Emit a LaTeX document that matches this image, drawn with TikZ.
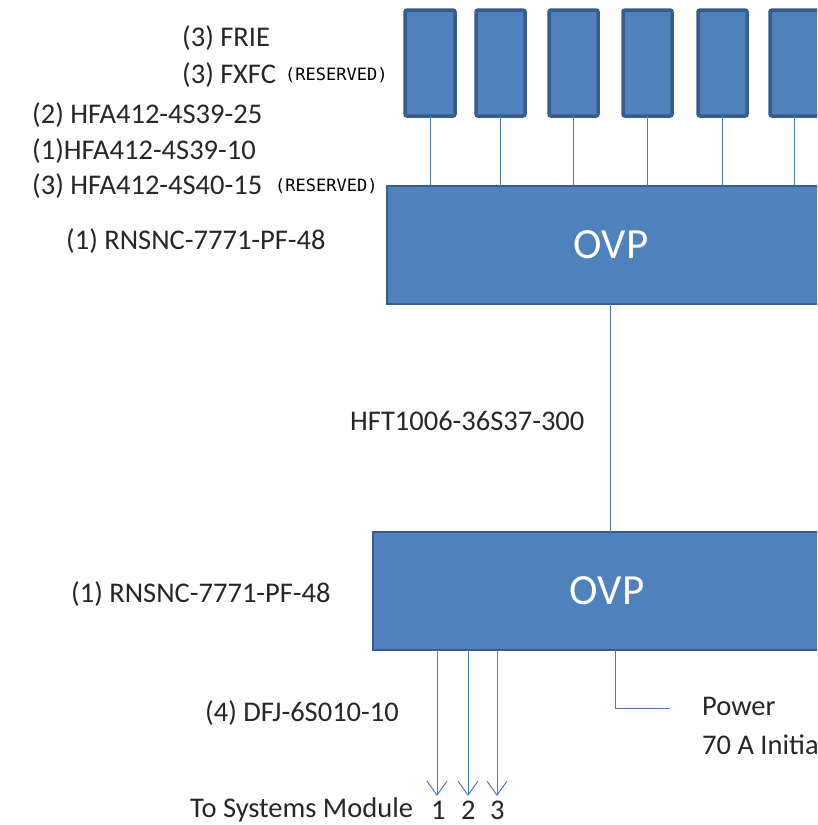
\documentclass[tikz,border=0pt]{standalone}
\usepackage{fontspec}
\setmainfont{Carlito}
\newfontfamily\resfont{DejaVu Sans Mono}
\usetikzlibrary{arrows.meta}
\definecolor{boxfill}{HTML}{4F81BD}
\definecolor{boxline}{HTML}{385D8A}
\definecolor{wire}{HTML}{4A7EBB}
\definecolor{txt}{HTML}{262626}
\tikzset{
  plug/.style={draw=boxline, line width=3.5pt, fill=boxfill, rounded corners=2pt},
  ovp/.style={draw=boxline, line width=1.5pt, fill=boxfill},
  wireln/.style={draw=wire, line width=1pt},
  lbl/.style={anchor=west, inner sep=0pt, text=txt, font=\fontsize{28.5}{30}\selectfont},
  res/.style={anchor=west, inner sep=0pt, text=black, font=\resfont\fontsize{17}{19}\selectfont},
  ovptext/.style={text=white, font=\fontsize{43}{46}\selectfont},
}
\begin{document}
\begin{tikzpicture}[x=1pt,y=-1pt]
\useasboundingbox (0,0) rectangle (817,825);
\clip (0,0) rectangle (817,825);
% top connectors
\foreach \i/\a/\b in {1/405/455,2/476/525,3/549/598,4/623/672,5/698/747,6/770/819}{
  \path[plug] (\a,10) rectangle (\b,116);
  \coordinate (p\i) at ({(\a+\b)/2},116);
}
% OVP boxes
\path[ovp] (387,186) rectangle (840,304);
\node[ovptext] (ovp1) at (611,245) {OVP};
\path[ovp] (373,532) rectangle (845,650);
\node[ovptext] (ovp2) at (607,591) {OVP};
\coordinate (t1) at (387,186);
% wires from plugs
\foreach \i in {1,...,6}{
  \draw[wireln] (p\i) -- (p\i |- t1);
}
\coordinate (o1b) at (610,304);
\coordinate (o2t) at (610,532);
\draw[wireln] (o1b) -- (o2t);
% arrows
\foreach \i/\x in {1/437,2/468,3/497}{
  \coordinate (a\i) at (\x,650);
  \coordinate (e\i) at (\x,796);
  \draw[wireln, -{Straight Barb[length=14pt,width=20pt,line width=1pt]}] (a\i) -- (e\i);
}
% power line
\coordinate (pw0) at (615,650);
\coordinate (pw1) at (615,708);
\coordinate (pw2) at (670,708);
\draw[wireln] (pw0) -- (pw1) -- (pw2);
% labels
\node[lbl] (l1) at (182,38) {(3) FRIE};
\node[lbl] (l2) at (182,75) {(3) FXFC};
\node[res] (r2) at (285,75) {(RESERVED)};
\node[lbl] (l3) at (32,115) {(2) HFA412-4S39-25};
\node[lbl] (l4) at (32,151) {(1)HFA412-4S39-10};
\node[lbl] (l5) at (32,186) {(3) HFA412-4S40-15};
\node[res] (r5) at (275,186) {(RESERVED)};
\node[lbl] (l6) at (66,241) {(1) RNSNC-7771-PF-48};
\node[lbl] (l7) at (350,421) {HFT1006-36S37-300};
\node[lbl] (l8) at (71,594) {(1) RNSNC-7771-PF-48};
\node[lbl] (l9) at (205,713) {(4) DFJ-6S010-10};
\node[lbl] (l10) at (702,706) {Power};
\node[lbl] (l11) at (702,745) {70 A Initial};
\node[lbl] (l12) at (190,810) {To Systems Module};
\node[lbl] (n1) at (431,810) {1};
\node[lbl] (n2) at (461,810) {2};
\node[lbl] (n3) at (490,810) {3};
\end{tikzpicture}
\end{document}
